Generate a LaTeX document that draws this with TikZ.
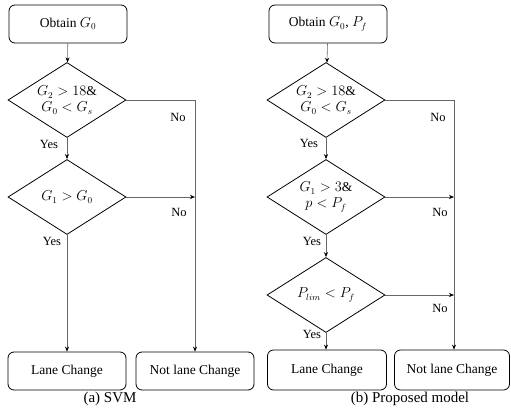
\documentclass[tikz,border=0pt]{standalone}
\usepackage{fontspec}
\setmainfont{Liberation Serif}
\usetikzlibrary{shapes.geometric,arrows.meta}
\begin{document}
\begin{tikzpicture}[x=1pt,y=-1pt,
  txt/.style={font=\fontsize{13.5}{16}\selectfont},
  boxnode/.style={draw=black,line width=0.8pt,rounded corners=6pt,minimum width=118pt,minimum height=38pt,inner sep=0pt,txt},
  decision/.style={draw=black,line width=0.8pt,diamond,aspect=1.57,minimum width=118pt,minimum height=75pt,inner sep=0pt,align=center,txt},
  conn/.style={draw=black!60,line width=0.6pt},
  arr/.style={conn,-{Stealth[length=5pt,width=4pt,black]}},
  lbl/.style={font=\fontsize{12.5}{14}\selectfont,inner sep=0pt},
  captext/.style={font=\fontsize{15}{18}\selectfont,inner sep=0pt}]
\useasboundingbox (0,0) rectangle (511,412);
% ---- left: SVM
\node[boxnode] (a0) at (68,24) {Obtain $G_0$};
\node[decision] (a1) at (67,100) {$G_2>18\&$\\$G_0<G_s$};
\node[decision] (a2) at (67,197) {$G_1>G_0$};
\node[boxnode] (a3) at (67,371) {Lane Change};
\node[boxnode] (a4) at (195,371) {Not lane Change};
\coordinate (ac1) at (195,100);
\coordinate (ac2) at (195,197);
\draw[arr] (a0) -- (a1);
\draw[arr] (a1) -- (a2);
\draw[arr] (a1.east) -- (ac1) -- (a4.north);
\draw[arr] (a2.east) -- (ac2);
\draw[arr] (a2.south) -- (a3.north);
\node[lbl] (an1) at (178,117) {No};
\node[lbl] (an2) at (179,212) {No};
\node[lbl] (ay1) at (49,144) {Yes};
\node[lbl] (ay2) at (52,241) {Yes};
\node[captext] (acap) at (110,399) {(a) SVM};
% ---- right: proposed model
\node[boxnode] (b0) at (328,24) {Obtain $G_0$, $P_f$};
\node[decision] (b1) at (326,100) {$G_2>18\&$\\$G_0<G_s$};
\node[decision] (b2) at (326,197) {$G_1>3\&$\\$p<P_f$};
\node[decision] (b3) at (326,295) {$P_{lim}<P_f$};
\node[boxnode,minimum width=119pt,minimum height=40pt] (b4) at (327,370) {Lane Change};
\node[boxnode,minimum width=115pt,minimum height=40pt] (b5) at (452,370) {Not lane Change};
\coordinate (bc1) at (454,100);
\coordinate (bc2) at (454,197);
\coordinate (bc3) at (454,295);
\draw[arr] (b0) -- (b1);
\draw[arr] (b1) -- (b2);
\draw[arr] (b2) -- (b3);
\draw[arr] (b1.east) -- (bc1) -- (bc1 |- b5.north);
\draw[arr] (b2.east) -- (bc2);
\draw[arr] (b3.east) -- (bc3);
\draw[arr] (b3.south) -- (b3.south |- b4.north);
\node[lbl] (bn1) at (438,117) {No};
\node[lbl] (bn2) at (440,212) {No};
\node[lbl] (bn3) at (440,308) {No};
\node[lbl] (by1) at (309,143) {Yes};
\node[lbl] (by2) at (312,241) {Yes};
\node[lbl] (by3) at (312,334) {Yes};
\node[captext] (bcap) at (410,399) {(b) Proposed model};
\end{tikzpicture}
\end{document}
